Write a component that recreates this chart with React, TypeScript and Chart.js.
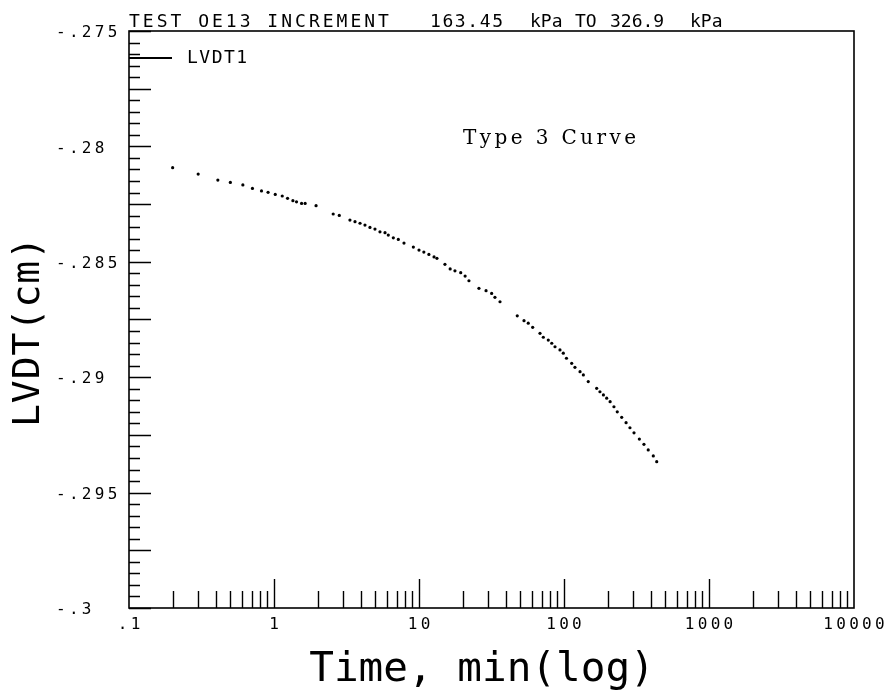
import { useEffect, useRef } from "react";
import { Chart, registerables } from "chart.js";

Chart.register(...registerables);

// ---- data ----
const timeMin = [
  0.2, 0.3, 0.41, 0.5, 0.61, 0.71, 0.82, 0.91, 1.02, 1.14,
  1.24, 1.35, 1.43, 1.55, 1.64, 1.95, 2.56, 2.82, 3.34, 3.62,
  3.92, 4.24, 4.59, 4.97, 5.38, 5.83, 6.14, 6.65, 7.2, 7.88,
  9.14, 10.0, 10.8, 11.7, 12.7, 13.3, 15.1, 16.4, 17.7, 19.4,
  20.8, 22.1, 25.9, 29.0, 31.7, 33.4, 36.2, 47.6, 53.0, 56.7,
  60.8, 68.3, 72.0, 77.9, 82.3, 86.7, 93.8, 98.9, 104, 113,
  119, 129, 136, 147, 168, 177, 187, 197, 208, 221,
  233, 250, 268, 285, 304, 331, 356, 381, 413, 436,
];
const lvdtCm = [
  -0.28092, -0.2812, -0.28146, -0.28156, -0.28167, -0.28182, -0.28193, -0.28199, -0.28208, -0.28215,
  -0.28225, -0.28235, -0.2824, -0.28247, -0.28247, -0.28257, -0.28293, -0.28299, -0.28319, -0.28326,
  -0.28333, -0.28341, -0.28351, -0.28358, -0.2837, -0.28374, -0.28384, -0.28396, -0.28403, -0.28419,
  -0.28436, -0.28449, -0.28458, -0.28468, -0.28479, -0.28485, -0.28511, -0.28531, -0.28539, -0.28547,
  -0.28562, -0.28582, -0.28615, -0.28625, -0.28637, -0.28654, -0.28673, -0.28734, -0.28755, -0.28766,
  -0.28784, -0.2881, -0.28827, -0.28839, -0.28853, -0.28868, -0.28882, -0.28896, -0.28918, -0.2894,
  -0.28957, -0.28976, -0.2899, -0.29019, -0.29048, -0.29063, -0.29077, -0.29091, -0.29106, -0.29128,
  -0.2915, -0.29174, -0.29197, -0.29219, -0.29241, -0.29268, -0.29291, -0.29315, -0.29341, -0.29366,
];
const xTickValues = [0.1, 1, 10, 100, 1000, 10000];
const xTickLabels = [".1", "1", "10", "100", "1000", "10000"];
const yTickValues = [-0.275, -0.28, -0.285, -0.29, -0.295, -0.3];
const yTickLabels = ["-.275", "-.28", "-.285", "-.29", "-.295", "-.3"];
const titleParts = ["TEST OE13 INCREMENT", "163.45", "kPa", "TO", "326.9", "kPa"];
const seriesName = "LVDT1";
const xTitle = "Time, min(log)";
const yTitle = "LVDT(cm)";
const noteText = "Type 3 Curve";

const MONO = "'DejaVu Sans Mono', 'Liberation Mono', monospace";
const SERIF = "'DejaVu Serif', 'Liberation Serif', serif";

function drawText(
  ctx: any,
  s: string,
  x: number,
  y: number,
  font: string,
  align: string,
  baseline: string,
  spacing: number
) {
  ctx.font = font;
  ctx.textAlign = align;
  ctx.textBaseline = baseline;
  ctx.letterSpacing = spacing + "px";
  let dx = 0;
  if (align === "center") dx = spacing / 2;
  ctx.fillText(s, x + dx, y);
  ctx.letterSpacing = "0px";
}

const plotterPlugin = {
  id: "plotterFrame",
  afterDatasetsDraw(chart: any) {
    const { ctx, chartArea, scales } = chart;
    const { left, top, right, bottom } = chartArea;
    const xs = scales.x;
    const ys = scales.y;
    ctx.save();
    ctx.strokeStyle = "#000";
    ctx.fillStyle = "#000";

    // frame
    ctx.lineWidth = 1.6;
    ctx.strokeRect(left, top, right - left, bottom - top);

    // ticks (inward)
    ctx.lineWidth = 1.4;
    ctx.beginPath();
    const step = 0.0005;
    const n = Math.round((ys.max - ys.min) / step);
    for (let i = 0; i <= n; i++) {
      const py = Math.round(ys.getPixelForValue(ys.min + i * step)) + 0.5;
      const len = i % 5 === 0 ? 22 : 11;
      ctx.moveTo(left, py);
      ctx.lineTo(left + len, py);
    }
    for (let e = -1; e <= 3; e++) {
      for (let k = 1; k <= 9; k++) {
        if (e === -1 && k === 1) continue;
        const v = k * Math.pow(10, e);
        const px = Math.round(xs.getPixelForValue(v)) + 0.5;
        const len = k === 1 ? 29 : 17;
        ctx.moveTo(px, bottom);
        ctx.lineTo(px, bottom - len);
      }
    }
    ctx.stroke();

    // tick labels
    const tickFont = "16px " + MONO;
    yTickValues.forEach((v, i) => {
      const py = ys.getPixelForValue(v);
      drawText(ctx, yTickLabels[i], 56, py + 2, tickFont, "left", "middle", 3.3);
    });
    xTickValues.forEach((v, i) => {
      const px = xs.getPixelForValue(v);
      drawText(ctx, xTickLabels[i], px, bottom + 17, tickFont, "center", "middle", 3.3);
    });

    // title pieces
    const titleX = [left, 430, 530, 575, 610, 690];
    const titleGap = [3, 1.6, 0, 0, 0, 0];
    titleParts.forEach((s, i) => {
      drawText(ctx, s, titleX[i], top - 4, "18px " + MONO, "left", "alphabetic", titleGap[i]);
    });

    // legend
    ctx.lineWidth = 2;
    ctx.beginPath();
    ctx.moveTo(left, 58);
    ctx.lineTo(left + 43, 58);
    ctx.stroke();
    drawText(ctx, seriesName, 187, 58, "18px " + MONO, "left", "middle", 1.5);

    // annotation
    drawText(ctx, noteText, 463, 144, "20px " + SERIF, "left", "alphabetic", 3.4);

    // axis titles
    drawText(ctx, xTitle, 482, 670, "41px " + MONO, "center", "middle", 0);
    ctx.save();
    ctx.translate(29, 332);
    ctx.rotate(-Math.PI / 2);
    drawText(ctx, yTitle, 0, 0, "38px " + MONO, "center", "middle", 1);
    ctx.restore();

    ctx.restore();
  },
};

export default function App() {
  const canvasRef = useRef<HTMLCanvasElement | null>(null);

  useEffect(() => {
    const canvas = canvasRef.current;
    if (!canvas) return;
    const points = timeMin.map((t, i) => ({ x: t, y: lvdtCm[i] }));
    const chart = new Chart(canvas, {
      type: "scatter",
      data: {
        datasets: [
          {
            label: seriesName,
            data: points,
            pointRadius: 1.6,
            pointHoverRadius: 1.6,
            pointBackgroundColor: "#000",
            pointBorderWidth: 0,
            showLine: false,
          },
        ],
      },
      options: {
        animation: false,
        responsive: false,
        layout: { padding: { left: 129, top: 31, right: 32, bottom: 90 } },
        scales: {
          x: { type: "logarithmic", min: 0.1, max: 10000, display: false },
          y: { type: "linear", min: -0.3, max: -0.275, display: false },
        },
        plugins: {
          legend: { display: false },
          tooltip: { enabled: false },
          title: { display: false },
        },
      },
      plugins: [plotterPlugin],
    } as any);
    return () => chart.destroy();
  }, []);

  return (
    <div
      style={{
        position: "fixed",
        left: 0,
        top: 0,
        width: 886,
        height: 698,
        background: "#fff",
      }}
    >
      <canvas
        ref={canvasRef}
        width={886}
        height={698}
        style={{ width: 886, height: 698, display: "block" }}
      />
    </div>
  );
}
